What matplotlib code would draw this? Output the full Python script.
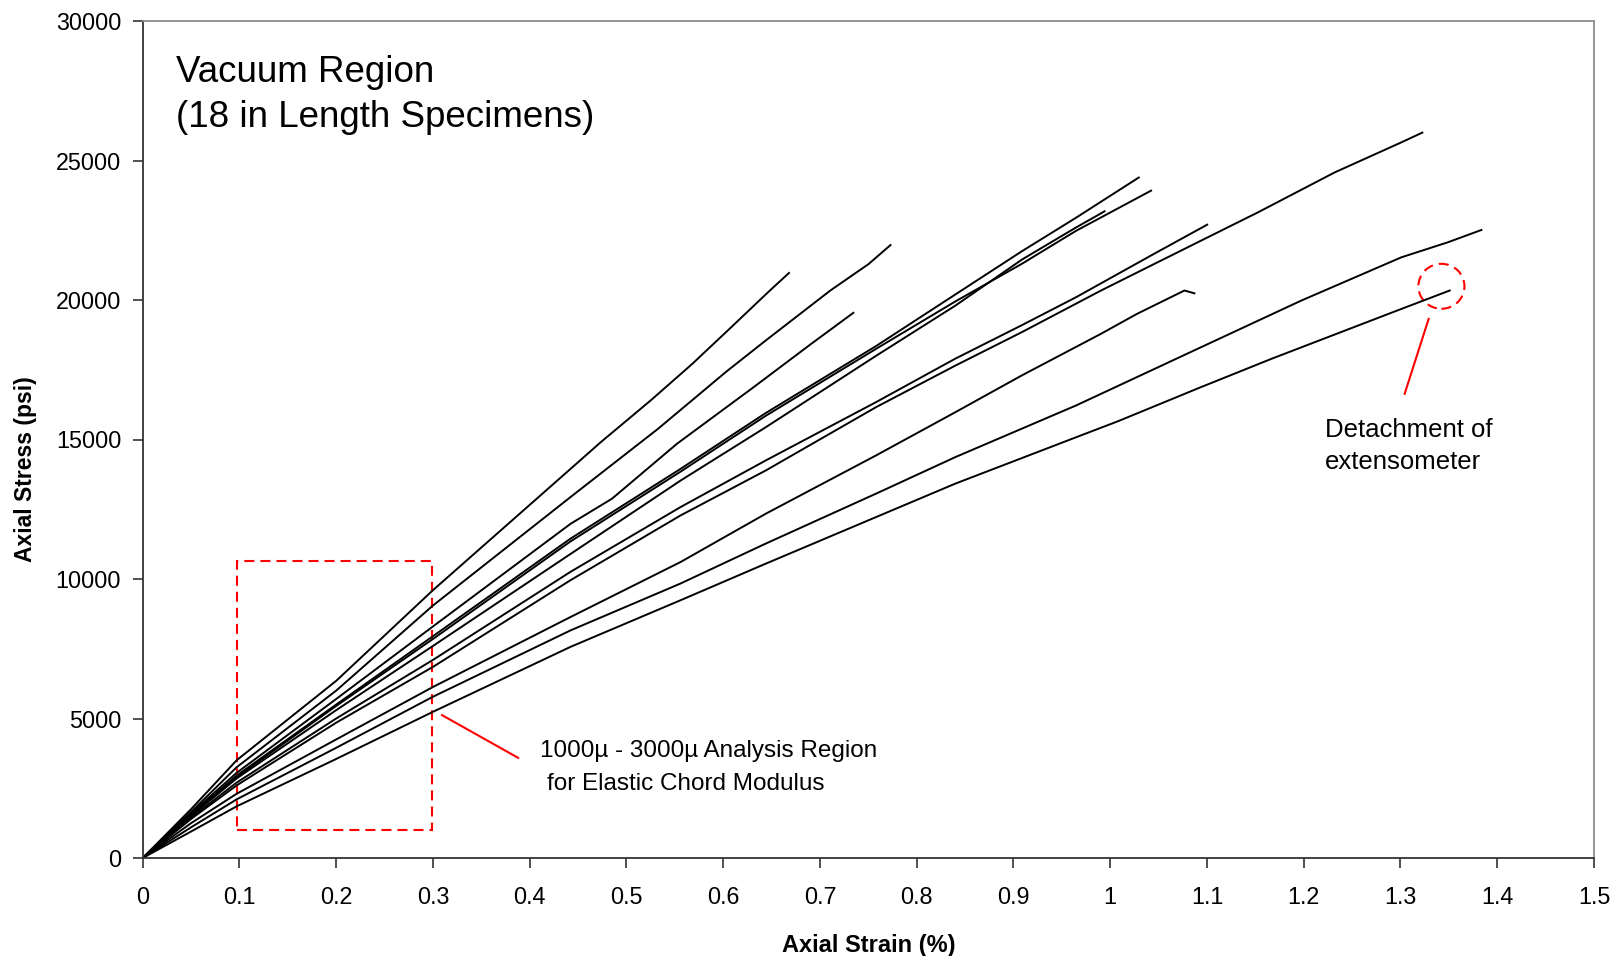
import matplotlib
matplotlib.use("Agg")
import matplotlib.pyplot as plt
from matplotlib import patches

plt.rcParams['font.family'] = ['Liberation Sans', 'DejaVu Sans']

# ---------------- data (strain %, stress psi) ----------------
A_x = [0, 0.05, 0.097, 0.2, 0.3, 0.4423, 0.4733, 0.525, 0.568, 0.606, 0.647, 0.668]
A_y = [0, 1750, 3500, 6350, 9600, 13950, 14900, 16400, 17710, 18950, 20300, 20970]

B_x = [0, 0.05, 0.097, 0.2, 0.3, 0.4423, 0.5325, 0.6038, 0.644, 0.7107, 0.7503, 0.7729]
B_y = [0, 1650, 3250, 6000, 9050, 12940, 15380, 17450, 18550, 20340, 21290, 21970]

C_x = [0, 0.05, 0.097, 0.2, 0.3, 0.4423, 0.4851, 0.5523, 0.6316, 0.691, 0.7345]
C_y = [0, 1600, 3050, 5700, 8300, 11980, 12880, 14850, 16880, 18430, 19540]

D_x = [0, 0.05, 0.097, 0.2, 0.3, 0.4423, 0.556, 0.644, 0.758, 0.84, 0.9088, 0.9647, 1.0295]
D_y = [0, 1550, 2950, 5500, 7950, 11450, 13950, 15950, 18350, 20200, 21750, 22950, 24390]

E_x = [0, 0.05, 0.097, 0.2, 0.3, 0.4423, 0.556, 0.644, 0.758, 0.84, 0.9088, 0.9647, 1.0422]
E_y = [0, 1520, 2900, 5450, 7850, 11350, 13850, 15850, 18250, 19950, 21300, 22480, 23920]

F_x = [0, 0.05, 0.097, 0.2, 0.3, 0.4423, 0.556, 0.644, 0.758, 0.84, 0.9088, 0.9647, 0.9942]
F_y = [0, 1500, 2850, 5300, 7600, 10900, 13530, 15440, 18000, 19800, 21450, 22600, 23180]

G_x = [0, 0.05, 0.097, 0.2, 0.3, 0.4423, 0.556, 0.644, 0.758, 0.84, 0.9088, 0.9647, 1.0419, 1.1002]
G_y = [0, 1450, 2700, 5000, 7100, 10260, 12580, 14250, 16340, 17900, 19100, 20100, 21590, 22700]

H_x = [0, 0.05, 0.097, 0.2, 0.3, 0.4423, 0.556, 0.644, 0.758, 0.84, 0.9088, 0.9905, 1.0275, 1.0767, 1.087]
H_y = [0, 1250, 2300, 4250, 6130, 8640, 10610, 12340, 14430, 15980, 17300, 18790, 19500, 20340, 20240]

I_x = [0, 0.05, 0.097, 0.2, 0.3, 0.4423, 0.556, 0.644, 0.758, 0.84, 0.9088, 0.9905, 1.0419, 1.094,
       1.1526, 1.2318, 1.3009, 1.3226]
I_y = [0, 1400, 2600, 4850, 6850, 9960, 12280, 13890, 16160, 17650, 18850, 20340, 21230, 22130,
       23140, 24570, 25650, 26000]

J_x = [0, 0.05, 0.097, 0.2, 0.3, 0.4423, 0.556, 0.644, 0.758, 0.84, 0.9647, 1.094, 1.1975, 1.3009,
       1.3491, 1.3836]
J_y = [0, 1100, 2100, 3950, 5780, 8160, 9840, 11270, 13060, 14370, 16220, 18310, 19980, 21530,
       22070, 22510]

K_x = [0, 0.05, 0.097, 0.2, 0.3, 0.4423, 0.556, 0.644, 0.758, 0.84, 0.9647, 1.0077, 1.094, 1.1665,
       1.3009, 1.3509]
K_y = [0, 950, 1850, 3550, 5240, 7570, 9240, 10550, 12220, 13420, 15080, 15650, 16880, 17890,
       19680, 20340]

x_ticks = [0, 0.1, 0.2, 0.3, 0.4, 0.5, 0.6, 0.7, 0.8, 0.9, 1.0, 1.1, 1.2, 1.3, 1.4, 1.5]
x_tick_labels = ['0', '0.1', '0.2', '0.3', '0.4', '0.5', '0.6', '0.7', '0.8', '0.9',
                 '1', '1.1', '1.2', '1.3', '1.4', '1.5']
y_ticks = [0, 5000, 10000, 15000, 20000, 25000, 30000]
y_tick_labels = ['0', '5000', '10000', '15000', '20000', '25000', '30000']

series = [(A_x, A_y), (B_x, B_y), (C_x, C_y), (D_x, D_y), (E_x, E_y), (F_x, F_y),
          (G_x, G_y), (H_x, H_y), (I_x, I_y), (J_x, J_y), (K_x, K_y)]

# ---------------- figure ----------------
W, H = 1621, 956
fig = plt.figure(figsize=(W / 100, H / 100), dpi=100)
L, R, T, B = 142.7, 1594, 21, 858
ax = fig.add_axes([L / W, 1 - B / H, (R - L) / W, (B - T) / H])

for xs, ys in series:
    ax.plot(xs, ys, color='black', lw=1.4, solid_joinstyle='round')

ax.set_xlim(0, 1.5)
ax.set_ylim(0, 30000)
ax.set_xticks(x_ticks)
ax.set_xticklabels(x_tick_labels)
ax.set_yticks(y_ticks)
ax.set_yticklabels(y_tick_labels)
ax.tick_params(direction='out', length=7, width=1.2, labelsize=16.8, colors='#333333',
               labelcolor='black')
ax.tick_params(axis='x', pad=13)
ax.tick_params(axis='y', pad=8.5)

for s in ('left', 'bottom'):
    ax.spines[s].set_color('#333333')
    ax.spines[s].set_linewidth(1.3)
for s in ('top', 'right'):
    ax.spines[s].set_color('#8c8c8c')
    ax.spines[s].set_linewidth(1.3)

ax.set_xlabel('Axial Strain (%)', fontsize=17, fontweight='bold', labelpad=18)
ax.set_ylabel('Axial Stress (psi)', fontsize=16.5, fontweight='bold')
ax.yaxis.set_label_coords(-0.073, 0.465)

# title block
ax.text(0.0345, 27800, 'Vacuum Region', fontsize=26.5, va='baseline', ha='left')
ax.text(0.0345, 26200, '(18 in Length Specimens)', fontsize=26.5, va='baseline', ha='left')

# analysis region box and its callout
dash = (0, (4.8, 2.9))
ax.add_patch(patches.Rectangle((0.097, 990), 0.2023, 9655, fill=False, edgecolor='red',
                               lw=1.5, linestyle=dash))
ax.plot([0.3094, 0.388], [5120, 3591], color='red', lw=1.5)
ax.text(0.4111, 3627, '1000\u00b5 - 3000\u00b5 Analysis Region', fontsize=17.5,
        va='baseline', ha='left')
ax.text(0.418, 2435, 'for Elastic Chord Modulus', fontsize=17.5, va='baseline', ha='left')

# detachment callout
ax.add_patch(patches.Ellipse((1.3423, 20491), 0.0476, 1611, fill=False, edgecolor='red',
                             lw=1.5, linestyle=dash))
ax.plot([1.3291, 1.3043], [19323, 16638], color='red', lw=1.5)
ax.text(1.2215, 15084, 'Detachment of', fontsize=18.5, va='baseline', ha='left')
ax.text(1.2215, 13953, 'extensometer', fontsize=18.5, va='baseline', ha='left')

fig.savefig('out.png', dpi=100)
